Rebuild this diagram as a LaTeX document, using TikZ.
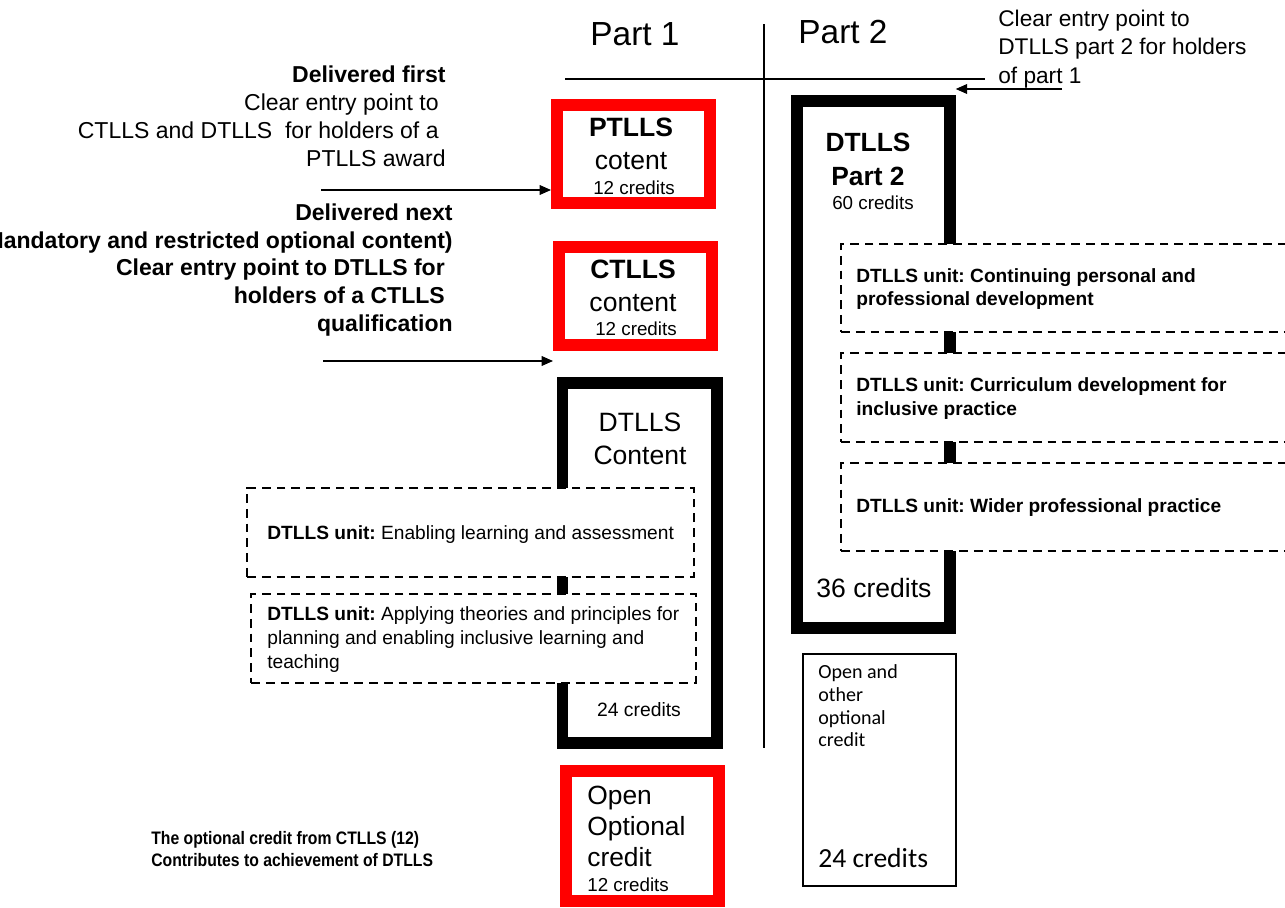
\documentclass[tikz,border=0pt]{standalone}
\usepackage{fontspec}
\setmainfont{Liberation Sans}
\newfontfamily\calfont{Carlito}
\newfontfamily\narrowfont{Liberation Sans}[FakeStretch=0.87]
\usetikzlibrary{positioning,arrows.meta}
\frenchspacing

\tikzset{
    redbox/.style={draw=red, line width=6.8pt, fill=white, inner sep=0pt},
    blackbox/.style={draw=black, line width=6.5pt, inner sep=0pt},
    unitbox/.style={draw=black, line width=1.1pt, dash pattern=on 5pt off 3.4pt, fill=white, inner sep=0pt},
    thinbox/.style={draw=black, line width=0.75pt, inner sep=0pt},
    parthead/.style={font=\fontsize{19}{22}\selectfont, inner sep=0pt},
    sidenote/.style={font=\fontsize{13.1}{15.9}\selectfont, inner sep=0pt},
    boxtitle/.style={font=\fontsize{15.1}{18.7}\selectfont, align=center, inner sep=0pt},
    credits/.style={font=\fontsize{10.7}{12}\selectfont, inner sep=0pt},
    unittext/.style={font=\fontsize{10.9}{13.4}\selectfont, align=left, anchor=west, inner sep=0pt},
    entry/.style={line width=0.85pt, -{Triangle[length=6.5pt,width=5.5pt]}}
}

\begin{document}
\begin{tikzpicture}[x=0.02cm, y=-0.02cm]
    \useasboundingbox (0,0) rectangle (1285,907);
    \clip (0,0) rectangle (1285,907);

    % --- Part 1 / Part 2 dividers ---
    \draw[line width=0.85pt] (565,79) -- (985,79);
    \draw[line width=0.85pt] (764,24) -- (764,748);
    \node[parthead] (part1) at (635,34) {Part 1};
    \node[parthead] (part2) at (843,32) {Part 2};

    % --- PART 1 ---
    % PTLLS
    \node[redbox, minimum width=3.06cm, minimum height=1.96cm] (ptlls) at (633.5,154) {};
    \node[boxtitle] (ptllsT) at (631,143.5) {\textbf{PTLLS}\\cotent};
    \node[credits] (ptllsC) at (634,188) {12 credits};

    % CTLLS
    \node[redbox, minimum width=3.06cm, minimum height=1.96cm] (ctlls) at (635.5,296) {};
    \node[boxtitle] (ctllsT) at (633,286) {\textbf{CTLLS}\\content};
    \node[credits] (ctllsC) at (636,329) {12 credits};

    % DTLLS content with its two units
    \node[blackbox, minimum width=3.09cm, minimum height=7.2cm] (dtllsA) at (639.75,563) {};
    \node[boxtitle] (dtllsAT) at (640,439) {DTLLS\\Content};
    \node[unitbox, minimum width=8.94cm, minimum height=1.78cm] (unitA1) at (470.5,532.5) {};
    \node[unitbox, minimum width=8.9cm, minimum height=1.78cm] (unitA2) at (473.5,638.5) {};
    \node[unittext] (unitA1T) at (267,535) {\textbf{DTLLS unit:} Enabling learning and assessment};
    \node[unittext] (unitA2T) at (267,639.5) {\textbf{DTLLS unit:} Applying theories and principles for\\planning and enabling inclusive learning and\\teaching};
    \node[credits, font=\fontsize{11}{12}\selectfont] (dtllsAC) at (639,710) {24 credits};

    % Open optional credit
    \node[redbox, minimum width=3.06cm, minimum height=2.6cm] (openred) at (642.5,836) {};
    \node[boxtitle, align=left, anchor=west, font=\fontsize{15}{17.6}\selectfont] (openredT) at (587,826.5) {Open\\Optional\\credit};
    \node[credits, anchor=west] (openredC) at (587,885) {12 credits};

    % Notes on the left
    \node[sidenote, align=right, anchor=east] (note1) at (446,116.5)
        {\textbf{Delivered first}\\Clear entry point to\kern4pt\\CTLLS and DTLLS\ \ for holders of a\kern4pt\\PTLLS award};
    \node[sidenote, align=right, anchor=east, font=\bfseries\fontsize{13.1}{15.9}\selectfont] (note2) at (453,270)
        {Delivered next\\(Mandatory and restricted optional content)\\Clear entry point to DTLLS for\kern4.5pt\\holders of a CTLLS\kern4.5pt\\qualification};
    \node[sidenote, align=left, anchor=west, font=\narrowfont\bfseries\fontsize{10.3}{12.5}\selectfont] (note3) at (151,849)
        {The optional credit from CTLLS (12)\\Contributes to achievement of DTLLS};

    \coordinate (tail1) at (321,190);
    \coordinate (tail2) at (323,361);
    \draw[entry] (tail1) -- (tail1 -| ptlls.west);
    \draw[entry] (tail2) -- (tail2 -| ctlls.west);

    % --- PART 2 ---
    \node[blackbox, minimum width=3.06cm, minimum height=10.54cm] (dtllsB) at (873.5,364.5) {};
    \node[boxtitle, font=\bfseries\fontsize{15}{19.8}\selectfont] (dtllsBT) at (868,159.5) {DTLLS\\Part 2};
    \node[credits] (dtllsBC) at (873,203) {60 credits};
    \foreach \n/\y in {B1/288, B2/397.5, B3/507}
        \node[unitbox, minimum width=9.18cm, minimum height=1.77cm] (unit\n) at (1070.5,\y) {};
    \node[unittext, font=\bfseries\fontsize{10.9}{13.6}\selectfont] (unitB1T) at (856,289) {DTLLS unit: Continuing personal and\\professional development};
    \node[unittext, font=\bfseries\fontsize{10.9}{13.6}\selectfont] (unitB2T) at (856,398.5) {DTLLS unit: Curriculum development for\\inclusive practice};
    \node[unittext, font=\bfseries\fontsize{10.9}{13.6}\selectfont] (unitB3T) at (856,508) {DTLLS unit: Wider professional practice};
    \node[boxtitle] (dtllsB36) at (874,588) {36 credits};

    % Open and other optional credit
    \node[thinbox, minimum width=3.06cm, minimum height=4.64cm] (optbox) at (879.5,770) {};
    \node[unittext, font=\calfont\fontsize{11.4}{12.9}\selectfont] (optboxT) at (818,706) {Open and\\other\\optional\\credit};
    \node[unittext, font=\calfont\fontsize{15.7}{18}\selectfont] (optboxC) at (818,858) {24 credits};

    % Entry point to part 2
    \node[sidenote, align=left, anchor=west, font=\fontsize{12.9}{16.4}\selectfont] (note4) at (998,49)
        {Clear entry point to\\DTLLS part 2 for holders\\of part 1};
    \coordinate (tail3) at (1062,89);
    \draw[entry] (tail3) -- (tail3 -| dtllsB.east);
\end{tikzpicture}
\end{document}
